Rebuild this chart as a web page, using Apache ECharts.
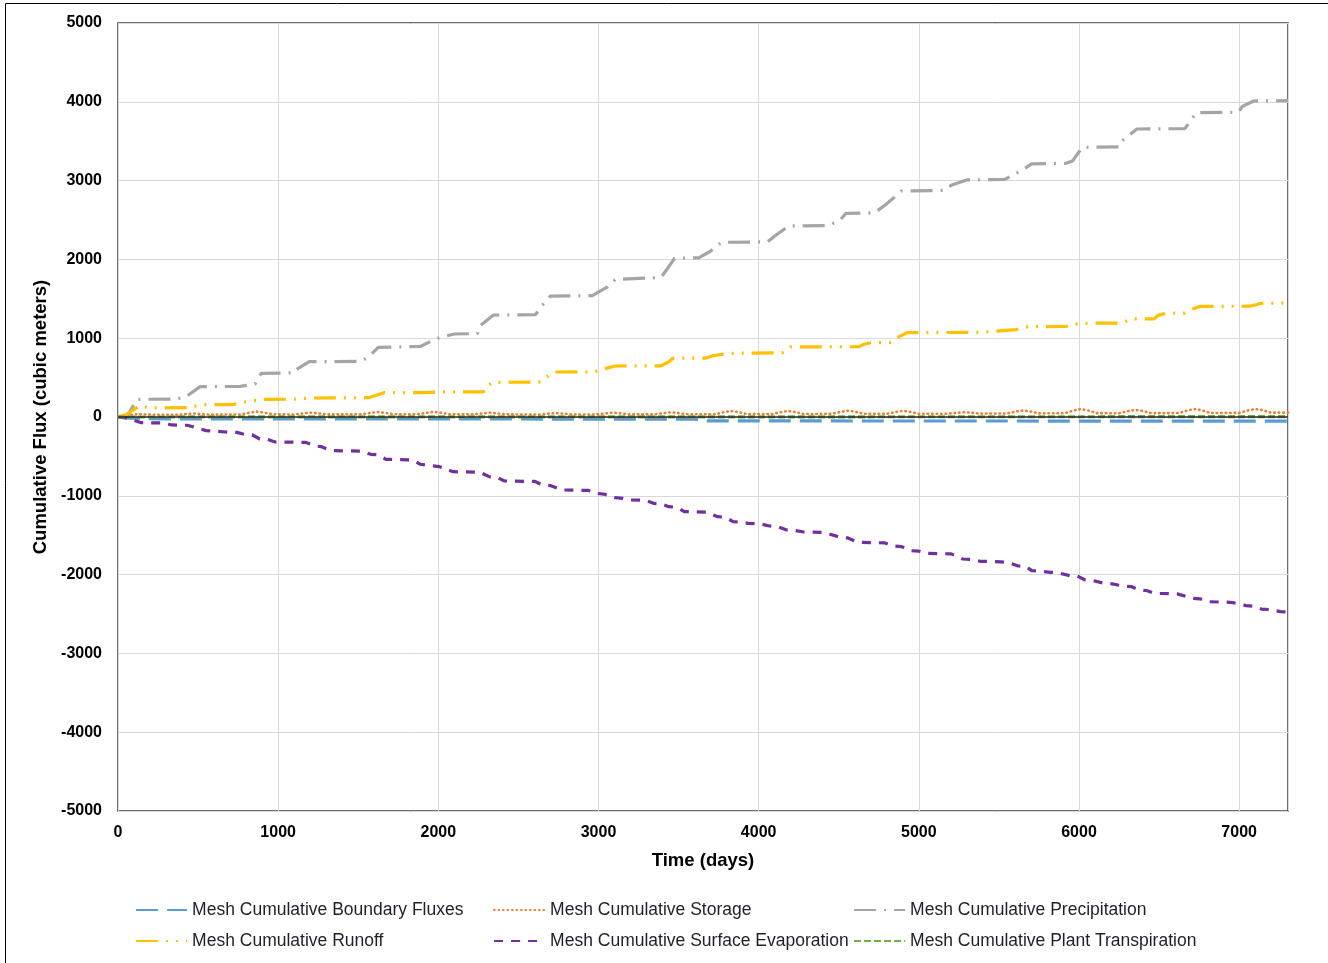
<!DOCTYPE html>
<html>
<head>
<meta charset="utf-8">
<script src="https://cdn.jsdelivr.net/npm/echarts@6/dist/echarts.min.js"></script>
<style>
  html, body { margin: 0; padding: 0; background: #fff; }
  #chart { width: 1328px; height: 963px; }
</style>
</head>
<body>
<div id="chart"></div>
<script>
// ---- Data (days, cumulative flux in cubic meters) ----
const seriesNames = [
  'Mesh Cumulative Boundary Fluxes',
  'Mesh Cumulative Storage',
  'Mesh Cumulative Precipitation',
  'Mesh Cumulative Runoff',
  'Mesh Cumulative Surface Evaporation',
  'Mesh Cumulative Plant Transpiration'
];
const xTicks = [0, 1000, 2000, 3000, 4000, 5000, 6000, 7000];
const yTicks = [-5000, -4000, -3000, -2000, -1000, 0, 1000, 2000, 3000, 4000, 5000];

const boundaryDays = [0, 60, 200, 600, 1500, 3000, 3600, 3640, 3680, 7305];
const boundaryVals = [0, -15, -22, -25, -25, -26, -27, -40, -50, -52];

const storageDays = [0,60,120,250,370,430,470,510,570,766,826,866,906,966,1100,1160,1200,1240,1300,1520,1580,1620,1660,1720,1870,1930,1970,2010,2070,2220,2280,2320,2360,2420,2630,2690,2730,2770,2830,2990,3050,3090,3130,3190,3350,3410,3450,3490,3550,3725,3785,3825,3865,3925,4080,4140,4180,4220,4280,4456,4516,4556,4596,4656,4800,4860,4900,4940,5000,5180,5240,5280,5320,5380,5550,5610,5650,5690,5750,5910,5970,6010,6050,6110,6250,6310,6350,6390,6450,6620,6680,6720,6760,6820,7000,7060,7100,7140,7200,7305];
const storageVals = [0,22,35,28,28,38,45,40,30,32,56,68,58,34,32,46,55,48,33,34,52,63,54,35,35,54,65,56,35,33,46,55,48,33,32,43,50,45,32,32,46,55,48,33,33,50,60,52,34,35,62,76,66,37,36,62,76,66,38,40,66,80,70,41,40,65,78,68,41,42,54,60,56,43,45,70,82,74,46,48,84,100,88,49,48,76,90,80,49,50,84,100,88,51,52,85,100,90,55,55];

const precipDays = [0,56,119,356,419,513,762,856,894,1100,1112,1194,1519,1562,1625,1887,1994,2100,2244,2256,2344,2606,2650,2700,2962,3056,3106,3391,3475,3625,3696,3768,4055,4103,4186,4437,4509,4545,4724,4796,4892,5155,5202,5298,5537,5633,5705,5920,5960,6020,6254,6278,6362,6661,6697,6733,6995,7019,7091,7305];
const precipVals = [0,10,224,228,250,385,388,420,554,560,600,702,705,760,884,895,1000,1053,1058,1150,1294,1298,1420,1535,1540,1650,1747,1770,2014,2020,2100,2217,2222,2300,2424,2430,2500,2585,2590,2700,2868,2875,2940,3008,3015,3120,3211,3220,3250,3422,3428,3520,3655,3660,3760,3862,3868,3940,4010,4015];

const runoffDays = [0,50,110,135,160,185,432,527,718,790,909,1100,1148,1220,1566,1661,1900,2000,2282,2294,2341,2628,2700,2723,2974,3033,3105,3391,3439,3463,3672,3720,3816,4150,4200,4629,4652,4700,4820,4868,4928,5394,5609,5681,5920,5944,6015,6254,6302,6326,6470,6493,6541,6661,6708,6756,7067,7115,7139,7305];
const runoffVals = [0,30,110,140,140,115,118,156,158,190,224,226,235,241,245,309,310,318,320,380,440,442,540,571,573,610,647,650,700,745,748,780,808,816,890,892,920,943,946,1010,1070,1075,1110,1146,1150,1170,1189,1192,1220,1244,1246,1290,1316,1318,1370,1404,1406,1430,1443,1445];

const evapDays = [0,50,145,265,336,432,480,551,600,670,742,790,837,885,933,981,1172,1231,1267,1327,1518,1578,1625,1673,1840,1888,2007,2091,2258,2317,2365,2413,2604,2652,2699,2771,2938,2986,3033,3105,3153,3200,3296,3344,3391,3439,3487,3535,3672,3744,3792,3840,3888,3935,4007,4067,4115,4175,4222,4282,4402,4430,4509,4557,4617,4784,4844,4892,4951,5000,5047,5202,5274,5322,5382,5513,5560,5621,5669,5705,5752,5824,5872,5944,5991,6039,6087,6159,6207,6278,6326,6374,6422,6469,6613,6709,6756,6804,6924,6960,7043,7091,7139,7187,7258,7305];
const evapVals = [0,-10,-72,-75,-101,-105,-131,-173,-178,-190,-195,-220,-225,-279,-285,-317,-322,-368,-375,-427,-432,-474,-480,-537,-545,-600,-630,-694,-700,-757,-765,-812,-818,-863,-870,-926,-932,-969,-978,-1024,-1032,-1053,-1058,-1096,-1103,-1138,-1145,-1201,-1206,-1265,-1272,-1328,-1335,-1349,-1355,-1383,-1390,-1434,-1440,-1459,-1465,-1477,-1527,-1535,-1590,-1597,-1637,-1645,-1697,-1703,-1730,-1737,-1802,-1808,-1831,-1838,-1848,-1891,-1898,-1950,-1955,-1971,-1978,-2014,-2020,-2068,-2075,-2111,-2118,-2145,-2152,-2195,-2202,-2238,-2245,-2301,-2308,-2344,-2350,-2356,-2394,-2400,-2437,-2443,-2470,-2475];

const transpDays = [0, 1000, 3000, 5000, 7305];
const transpVals = [0, 1, 2, 3, 4];

// ---- Build chart ----
const pairs = (d, v) => d.map((x, i) => [x, v[i]]);
const FONT = 'Liberation Sans, Arial, sans-serif';

const styles = [
  { color: '#5B9BD5', width: 3.2, type: [22, 9], cap: 'butt' },
  { color: '#ED7D31', width: 2.6, type: [0.5, 4], cap: 'round' },
  { color: '#A5A5A5', width: 3.2, type: [22, 8, 2, 8], cap: 'butt' },
  { color: '#FFC000', width: 3.2, type: [22, 8, 2, 8, 2, 8], cap: 'butt' },
  { color: '#7030A0', width: 3.2, type: [9, 8], cap: 'butt' },
  { color: '#70AD47', width: 3.2, type: [7, 3], cap: 'butt' }
];
const dataSets = [
  pairs(boundaryDays, boundaryVals),
  pairs(storageDays, storageVals),
  pairs(precipDays, precipVals),
  pairs(runoffDays, runoffVals),
  pairs(evapDays, evapVals),
  pairs(transpDays, transpVals)
];

const series = seriesNames.map((name, i) => {
  const s = {
    name: name,
    type: 'line',
    data: dataSets[i],
    showSymbol: false,
    symbol: 'none',
    animation: false,
    color: styles[i].color,
    lineStyle: { color: styles[i].color, width: styles[i].width, type: styles[i].type, cap: styles[i].cap }
  };
  if (i === 0) {
    s.markLine = {
      silent: true,
      symbol: 'none',
      label: { show: false },
      lineStyle: { color: '#262626', width: 1.5, type: 'solid' },
      data: [{ yAxis: 0 }]
    };
  }
  return s;
});

const legendPos = [
  { left: 135, top: 901 }, { left: 493, top: 901 }, { left: 853, top: 901 },
  { left: 135, top: 932 }, { left: 493, top: 932 }, { left: 853, top: 932 }
];
const legends = seriesNames.map((name, i) => ({
  data: [name],
  left: legendPos[i].left,
  top: legendPos[i].top,
  padding: 0,
  itemWidth: 51,
  itemHeight: 14,
  selectedMode: false,
  itemStyle: { opacity: 0 },
  lineStyle: { width: 2.2 },
  textStyle: { fontFamily: FONT, fontSize: 17.5, color: '#1f1f2a' }
}));

const chart = echarts.init(document.getElementById('chart'), null, { renderer: 'canvas' });
chart.setOption({
  backgroundColor: '#ffffff',
  animation: false,
  graphic: [{
    type: 'rect',
    shape: { x: 5.5, y: 3.5, width: 1400, height: 1000 },
    style: { fill: 'none', stroke: '#000', lineWidth: 1 },
    silent: true,
    z: -1
  }],
  grid: { left: 118, right: 40, top: 23, bottom: 152, show: true, borderColor: '#404040', borderWidth: 1.5, backgroundColor: 'transparent' },
  legend: legends,
  xAxis: {
    type: 'value',
    min: xTicks[0],
    max: 7305,
    interval: 1000,
    name: 'Time (days)',
    nameLocation: 'middle',
    nameGap: 40,
    nameTextStyle: { fontFamily: FONT, fontWeight: 'bold', fontSize: 18.5, color: '#000' },
    axisLine: { show: false },
    axisTick: { show: false },
    splitLine: { show: true, lineStyle: { color: '#d9d9d9', width: 1 } },
    axisLabel: {
      fontFamily: FONT, fontWeight: 'bold', fontSize: 16, color: '#000', margin: 14,
      showMaxLabel: false,
      formatter: v => (xTicks.indexOf(v) >= 0 ? String(v) : '')
    }
  },
  yAxis: {
    type: 'value',
    min: yTicks[0],
    max: yTicks[yTicks.length - 1],
    interval: 1000,
    name: 'Cumulative Flux (cubic meters)',
    nameLocation: 'middle',
    nameGap: 56,
    nameRotate: 90,
    nameTextStyle: { fontFamily: FONT, fontWeight: 'bold', fontSize: 18.5, color: '#000' },
    axisLine: { show: false },
    axisTick: { show: false },
    splitLine: { show: true, lineStyle: { color: '#d9d9d9', width: 1 } },
    axisLabel: {
      fontFamily: FONT, fontWeight: 'bold', fontSize: 16, color: '#000', margin: 16,
      formatter: v => String(v)
    }
  },
  series: series
});
</script>
</body>
</html>
